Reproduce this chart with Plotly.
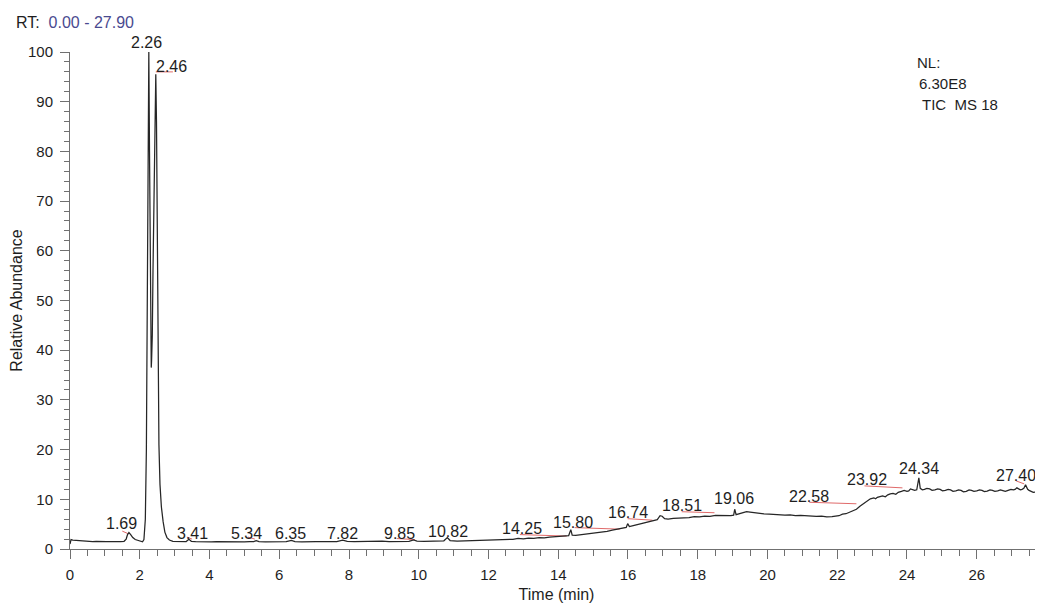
import plotly.graph_objects as go

# ---- chromatogram trace (time in min, relative abundance %) ----
seg_start = [(0.00, 1.0), (0.03, 1.9), (0.08, 1.8), (0.15, 1.75), (0.25, 1.65), (0.35, 1.6),
             (0.45, 1.6), (0.55, 1.55), (0.65, 1.5), (0.75, 1.55), (0.85, 1.5), (0.95, 1.45),
             (1.05, 1.5), (1.15, 1.5), (1.25, 1.45), (1.35, 1.5), (1.45, 1.5), (1.55, 1.55),
             (1.61, 2.0), (1.65, 2.9), (1.69, 3.3), (1.74, 2.9), (1.80, 2.3), (1.87, 1.9),
             (1.95, 1.7), (2.03, 1.5), (2.08, 1.45)]
seg_main = [(2.12, 1.9), (2.16, 6.0), (2.19, 20.0), (2.22, 55.0), (2.25, 95.0), (2.26, 100.0),
            (2.28, 80.0), (2.30, 55.0), (2.32, 41.0), (2.33, 36.5), (2.34, 38.0), (2.36, 43.0),
            (2.38, 56.0), (2.41, 72.0), (2.43, 86.0), (2.46, 95.5), (2.48, 86.0), (2.50, 60.0),
            (2.52, 35.0), (2.55, 21.0), (2.58, 13.0), (2.62, 8.5), (2.67, 5.5), (2.72, 3.4),
            (2.78, 2.3), (2.85, 1.8), (2.95, 1.55)]
seg_flat = [(3.05, 1.5), (3.20, 1.45), (3.33, 1.5), (3.41, 1.95), (3.48, 1.55), (3.60, 1.5),
            (3.75, 1.45), (3.90, 1.4), (4.05, 1.45), (4.20, 1.5), (4.40, 1.45), (4.60, 1.4),
            (4.80, 1.5), (5.00, 1.45), (5.15, 1.5), (5.27, 1.5), (5.34, 1.7), (5.42, 1.5),
            (5.60, 1.45), (5.80, 1.5), (6.00, 1.45), (6.20, 1.5), (6.35, 1.75), (6.45, 1.5),
            (6.65, 1.45), (6.85, 1.55), (7.05, 1.5), (7.25, 1.5), (7.45, 1.55), (7.65, 1.5),
            (7.82, 1.8), (7.95, 1.55), (8.15, 1.5), (8.35, 1.55), (8.55, 1.5), (8.75, 1.55),
            (8.95, 1.6), (9.15, 1.5), (9.35, 1.55), (9.55, 1.6), (9.72, 1.55), (9.85, 1.85),
            (9.95, 1.6), (10.15, 1.55), (10.35, 1.6), (10.55, 1.6), (10.72, 1.65), (10.82, 2.3),
            (10.90, 1.7), (11.10, 1.6), (11.30, 1.65), (11.50, 1.6), (11.70, 1.7), (11.90, 1.7)]
seg_rise = [(12.10, 1.75), (12.30, 1.8), (12.50, 1.9), (12.70, 1.95), (12.85, 2.15), (13.00, 2.05),
            (13.15, 2.2), (13.30, 2.15), (13.45, 2.3), (13.60, 2.25), (13.75, 2.4), (13.90, 2.45),
            (14.05, 2.55), (14.20, 2.6), (14.30, 2.7), (14.36, 3.9), (14.40, 2.8), (14.50, 2.75),
            (14.65, 2.9), (14.80, 3.0), (14.95, 3.1), (15.10, 3.2), (15.25, 3.4), (15.40, 3.55),
            (15.55, 3.8), (15.70, 4.0), (15.85, 4.2), (15.95, 4.35), (15.99, 5.1), (16.04, 4.5),
            (16.15, 4.7), (16.30, 4.95), (16.45, 5.15), (16.60, 5.4), (16.74, 5.7), (16.84, 5.9),
            (16.92, 6.7), (16.98, 6.6), (17.05, 6.1), (17.15, 6.0), (17.30, 6.15), (17.45, 6.2),
            (17.60, 6.35), (17.75, 6.3), (17.90, 6.5), (18.05, 6.45), (18.20, 6.6), (18.35, 6.55),
            (18.51, 6.75), (18.65, 6.7), (18.80, 6.65), (18.95, 6.7), (19.03, 6.8), (19.06, 8.0),
            (19.10, 6.9), (19.20, 7.1)]
seg_late = [(19.30, 7.3), (19.40, 7.5), (19.50, 7.4), (19.60, 7.3), (19.75, 7.2), (19.90, 7.05),
            (20.05, 7.0), (20.20, 6.9), (20.35, 6.95), (20.50, 6.8), (20.65, 6.85), (20.80, 6.7),
            (20.95, 6.75), (21.10, 6.65), (21.25, 6.7), (21.40, 6.55), (21.55, 6.6), (21.70, 6.45),
            (21.85, 6.5), (21.95, 6.6), (22.05, 6.7), (22.15, 7.0), (22.25, 7.1), (22.35, 7.4),
            (22.45, 7.7), (22.55, 8.0), (22.65, 8.6), (22.75, 9.1), (22.85, 9.7), (22.95, 10.1),
            (23.05, 10.3), (23.10, 10.1), (23.15, 10.4), (23.22, 10.6), (23.30, 10.7), (23.38, 10.5),
            (23.45, 10.9), (23.52, 11.1), (23.60, 11.2), (23.68, 11.0), (23.75, 11.4), (23.84, 11.6),
            (23.92, 11.8), (24.00, 11.6), (24.05, 11.7), (24.10, 12.1), (24.15, 12.0), (24.22, 11.8),
            (24.28, 11.9), (24.34, 14.3), (24.38, 12.2), (24.44, 11.9), (24.50, 12.0), (24.57, 12.2),
            (24.65, 12.1), (24.72, 11.8), (24.80, 11.9), (24.88, 12.1), (24.95, 12.0), (25.02, 11.7),
            (25.10, 11.8), (25.18, 12.0), (25.25, 11.9), (25.32, 11.6), (25.40, 11.7), (25.48, 11.9),
            (25.55, 11.8), (25.62, 11.5), (25.70, 11.6), (25.78, 11.9), (25.85, 11.8), (25.92, 11.6),
            (26.00, 11.7), (26.08, 11.9), (26.15, 11.8), (26.22, 11.55), (26.30, 11.65), (26.38, 11.9),
            (26.45, 11.8), (26.52, 11.6), (26.60, 11.7), (26.68, 11.9), (26.75, 11.75), (26.82, 11.6),
            (26.90, 11.8), (26.98, 12.0), (27.05, 11.9), (27.10, 12.0), (27.15, 12.3), (27.20, 12.0),
            (27.25, 11.9), (27.30, 12.0), (27.35, 12.2), (27.40, 12.9), (27.46, 12.0), (27.50, 11.8),
            (27.55, 11.6), (27.62, 11.4), (27.70, 11.5), (27.78, 11.7), (27.85, 11.6), (27.90, 11.5)]

# ---- peak labels (retention time text and where it sits) ----
peak_labels = ["2.26", "2.46", "1.69", "3.41", "5.34", "6.35", "7.82", "9.85", "10.82",
               "14.25", "15.80", "16.74", "18.51", "19.06", "22.58", "23.92", "24.34", "27.40"]
label_t = [2.20, 2.92, 1.49, 3.52, 5.07, 6.33, 7.82, 9.46, 10.83,
           12.95, 14.42, 15.99, 17.54, 19.05, 21.20, 22.84, 24.33, 27.13]
label_v = [102.0, 97.0, 5.2, 3.2, 3.2, 3.2, 3.2, 3.2, 3.6,
           4.2, 5.4, 7.4, 8.7, 10.1, 10.5, 13.9, 16.1, 14.7]

# ---- red integration baseline marks (t0, v0, t1, v1) ----
mark_t0 = [1.50, 2.46, 3.35, 5.10, 9.37, 12.90, 14.47, 15.99, 17.54, 21.20, 22.78, 27.13]
mark_v0 = [3.6, 96.0, 2.4, 2.4, 2.1, 2.9, 4.3, 6.1, 7.5, 9.4, 12.7, 13.7]
mark_t1 = [1.66, 2.95, 3.50, 5.30, 9.89, 14.24, 15.76, 16.70, 18.48, 22.55, 23.87, 27.36]
mark_v1 = [3.1, 96.0, 2.0, 2.0, 1.9, 2.6, 4.0, 5.8, 7.3, 9.1, 12.3, 13.1]

points = seg_start + seg_main + seg_flat + seg_rise + seg_late
time_min = [p[0] for p in points]
rel_abundance = [p[1] for p in points]

FONT = "Liberation Sans, Arial, sans-serif"
TXT = "#1e1e1e"
Y_MAX = 100.0

fig = go.Figure()

mx, my = [], []
for a, b, c, d in zip(mark_t0, mark_v0, mark_t1, mark_v1):
    mx += [a, c, None]
    my += [b, d, None]
fig.add_trace(go.Scatter(x=mx, y=my, mode="lines", line=dict(color="#e06a6a", width=1),
                         hoverinfo="skip", showlegend=False, cliponaxis=False))

fig.add_trace(go.Scatter(x=time_min, y=rel_abundance, mode="lines",
                         line=dict(color="#262626", width=1.25),
                         showlegend=False, cliponaxis=False))

for txt, t, v in zip(peak_labels, label_t, label_v):
    # labels above the axis top are placed in paper units so they are not hidden
    fig.add_annotation(x=t, y=v / Y_MAX, xref="x", yref="paper", text=txt, showarrow=False,
                       xanchor="center", yanchor="middle",
                       font=dict(family=FONT, size=16, color=TXT))

fig.add_annotation(xref="paper", yref="paper", x=-0.058, y=1.060, xanchor="left", yanchor="middle",
                   text="RT:  <span style='color:#4a4a90'>0.00 - 27.90</span>", showarrow=False,
                   font=dict(family=FONT, size=16, color=TXT))
for txt, xp, yp in [("NL:", 0.8685, 0.978), ("6.30E8", 0.8705, 0.9376), ("TIC  MS 18", 0.874, 0.8934)]:
    fig.add_annotation(xref="paper", yref="paper", x=xp, y=yp, xanchor="left", yanchor="middle",
                       text=txt, showarrow=False, font=dict(family=FONT, size=15, color=TXT))

axis_common = dict(showgrid=False, zeroline=False, showline=True, linecolor="#707070", linewidth=1,
                   ticks="outside", tickcolor="#707070", ticklen=9, tickwidth=1, automargin=False,
                   tickfont=dict(family=FONT, size=15, color=TXT))

fig.update_xaxes(range=[0, 27.9], tick0=0, dtick=2, ticklabelstandoff=3,
                 minor=dict(ticks="outside", dtick=0.5, tick0=0, ticklen=6, tickcolor="#707070"),
                 title=dict(text="Time (min)", standoff=9, font=dict(family=FONT, size=16, color=TXT)),
                 **axis_common)
fig.update_yaxes(range=[0, Y_MAX], tick0=0, dtick=10, ticklabelstandoff=4,
                 minor=dict(ticks="outside", dtick=2, tick0=0, ticklen=5, tickcolor="#707070"),
                 title=dict(text="Relative Abundance", standoff=4, font=dict(family=FONT, size=16, color=TXT)),
                 **axis_common)

# the page body adds an 8 px offset, so the figure is 8 px smaller and margins are shifted
fig.update_layout(width=1035, height=595, margin=dict(l=62, r=0, t=44, b=54),
                  paper_bgcolor="white", plot_bgcolor="white", showlegend=False)

fig.write_html("out.html")
